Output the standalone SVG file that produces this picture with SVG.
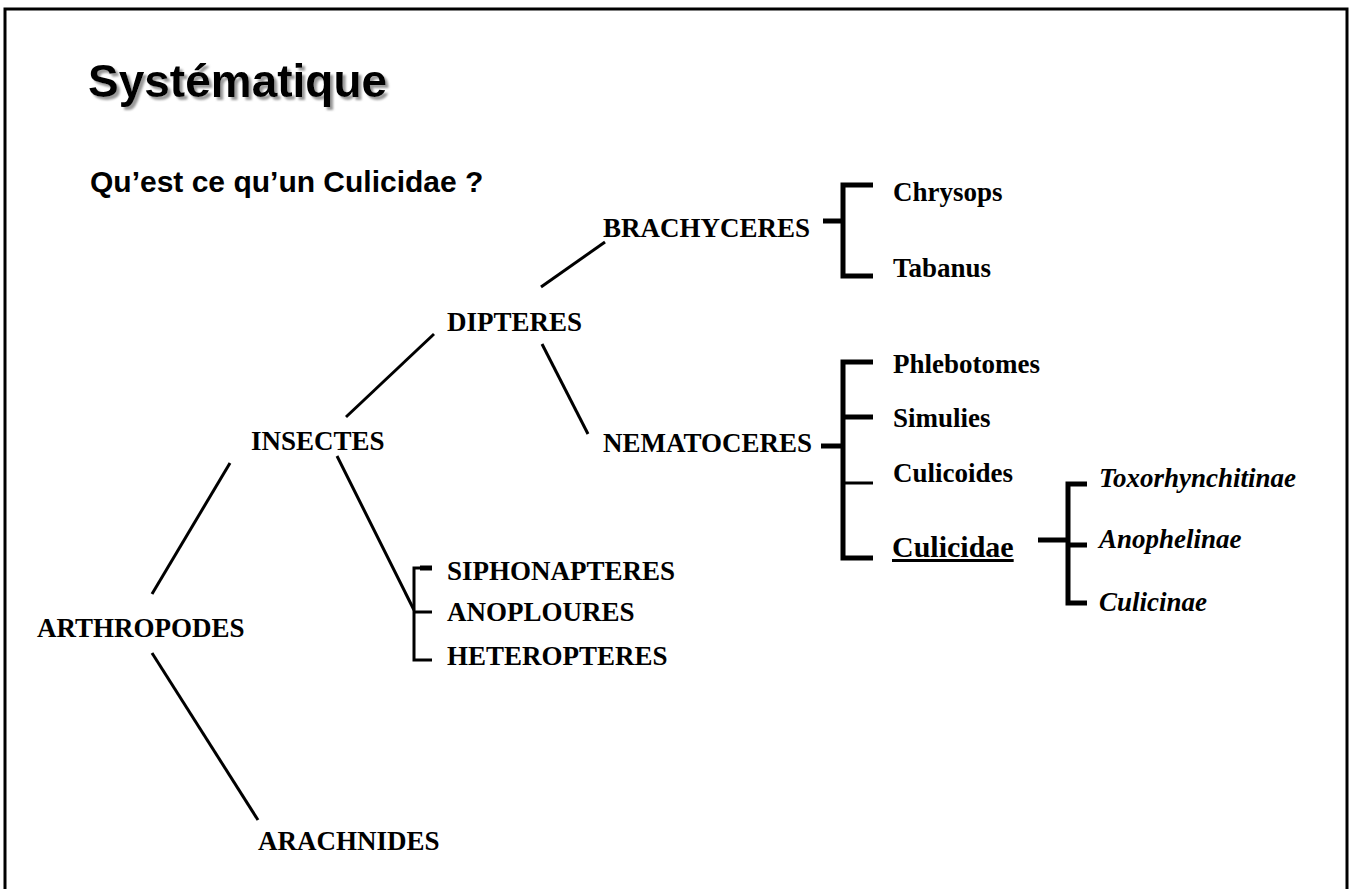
<svg xmlns="http://www.w3.org/2000/svg" width="1352" height="889" viewBox="0 0 1352 889">
<defs>
<filter id="shadow" x="-5%" y="-20%" width="115%" height="150%">
<feDropShadow dx="3" dy="3" stdDeviation="1.2" flood-color="#808080" flood-opacity="0.8"/>
</filter>
</defs>
<style>
.t{font-family:"Liberation Serif","Times New Roman",serif;font-weight:bold;font-size:27px;fill:#000}
.i{font-style:italic}
.ln{stroke:#000;stroke-width:3;fill:none}
.br{stroke:#000;stroke-width:5;fill:none}
.h{font-family:"Liberation Sans",Arial,sans-serif;font-weight:bold;fill:#000}
</style>
<rect x="0" y="0" width="1352" height="889" fill="#fff"/>
<path d="M5,900 V9 H1347 V900" fill="none" stroke="#000" stroke-width="3"/>
<g id="title">
<text x="88" y="97" class="h" font-size="46" filter="url(#shadow)">Systématique</text>
</g>
<g id="subtitle"><text x="90" y="192" class="h" font-size="30">Qu’est ce qu’un Culicidae ?</text></g>
<g id="connectors">
<line class="ln" x1="152" y1="594" x2="230" y2="463"/>
<line class="ln" x1="152" y1="653" x2="258" y2="820"/>
<line class="ln" x1="346" y1="417" x2="434" y2="334"/>
<line class="ln" x1="337" y1="456" x2="414" y2="610"/>
<path class="ln" d="M432,568 H414 V660 H432 M414,612 H432"/>
<path d="M420,568 H432" stroke="#000" stroke-width="5"/>
<line class="ln" x1="541" y1="287" x2="605" y2="242"/>
<line class="ln" x1="542" y1="344" x2="588" y2="434"/>
<path class="br" d="M823,221 H843 M873,185 H843 V276 H873"/>
<path class="br" d="M821,446 H843 M873,362 H843 V558 H873 M843,417 H873"/>
<path class="ln" d="M843,483 H873"/>
<path class="br" d="M1038,540 H1068 M1087,484 H1068 V603 H1087 M1068,545 H1087"/>
</g>
<g id="n-arthropodes"><text class="t" x="37" y="637">ARTHROPODES</text></g>
<g id="n-arachnides"><text class="t" x="258" y="850">ARACHNIDES</text></g>
<g id="n-insectes"><text class="t" x="251" y="450">INSECTES</text></g>
<g id="n-dipteres"><text class="t" x="447" y="331">DIPTERES</text></g>
<g id="n-brachyceres"><text class="t" x="603" y="237">BRACHYCERES</text></g>
<g id="n-nematoceres"><text class="t" x="603" y="452">NEMATOCERES</text></g>
<g id="n-siphonapteres"><text class="t" x="447" y="580">SIPHONAPTERES</text></g>
<g id="n-anoploures"><text class="t" x="447" y="621">ANOPLOURES</text></g>
<g id="n-heteropteres"><text class="t" x="447" y="665">HETEROPTERES</text></g>
<g id="n-chrysops"><text class="t" x="893" y="201">Chrysops</text></g>
<g id="n-tabanus"><text class="t" x="893" y="277">Tabanus</text></g>
<g id="n-phlebotomes"><text class="t" x="893" y="373">Phlebotomes</text></g>
<g id="n-simulies"><text class="t" x="893" y="427">Simulies</text></g>
<g id="n-culicoides"><text class="t" x="893" y="482">Culicoides</text></g>
<g id="n-culicidae"><text class="t" x="892" y="557" style="font-size:30px;text-decoration:underline">Culicidae</text></g>
<g id="n-toxorhynchitinae"><text class="t i" x="1099" y="487">Toxorhynchitinae</text></g>
<g id="n-anophelinae"><text class="t i" x="1099" y="548">Anophelinae</text></g>
<g id="n-culicinae"><text class="t i" x="1099" y="611">Culicinae</text></g>
</svg>
